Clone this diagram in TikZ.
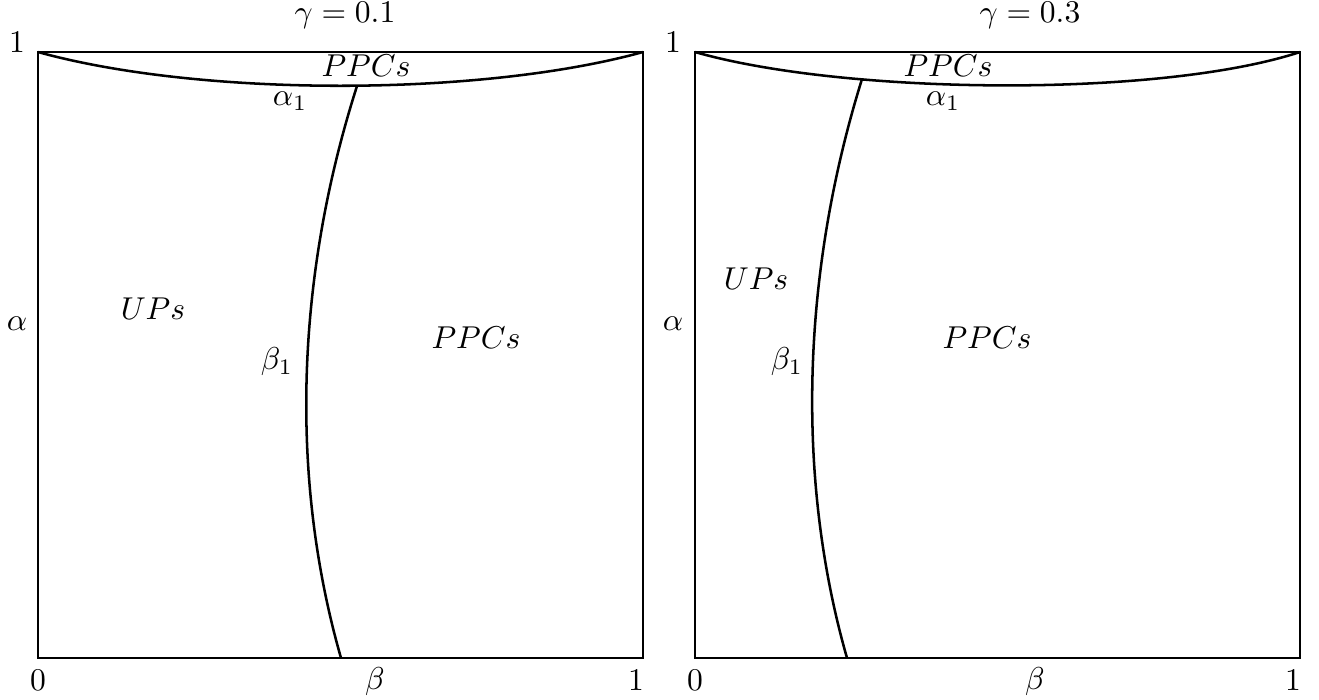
\documentclass[tikz,border=0pt]{standalone}
\begin{document}
\begin{tikzpicture}[x=0.3165pt,y=-0.3165pt,
  frame/.style={line width=0.4pt},
  bound/.style={line width=0.8pt},
  lbl/.style={inner sep=0pt,anchor=center}]
\useasboundingbox (0,0) rectangle (1319,699);
% ---------- left panel (gamma = 0.1) ----------
\coordinate (LTL) at (38,52);
\coordinate (LTR) at (643,52);
\coordinate (LBL) at (38,658);
\coordinate (LBR) at (643,658);
\coordinate (LJ) at (357,86);
\coordinate (LB) at (341,658);
\draw[frame] (LBL) rectangle (LTR);
\draw[bound] (LTL) .. controls (200,97) and (480,97) .. (LTR);
\draw[bound] (LJ) .. controls (295,280) and (290,480) .. (LB);
\node[lbl] (g1) at (345,15) {$\gamma=0.1$};
\node[lbl] (l1) at (17,42) {$1$};
\node[lbl] (lppc1) at (366,66) {$PPCs$};
\node[lbl] (la1) at (290,101) {$\alpha_1$};
\node[lbl] (lups) at (153,309) {$UPs$};
\node[lbl] (lal) at (17,324) {$\alpha$};
\node[lbl] (lb1) at (277,362) {$\beta_1$};
\node[lbl] (lppc2) at (476,338) {$PPCs$};
\node[lbl] (l0) at (38,680) {$0$};
\node[lbl] (lbe) at (375,682) {$\beta$};
\node[lbl] (l1b) at (636,680) {$1$};
% ---------- right panel (gamma = 0.3) ----------
\coordinate (RTL) at (695,52);
\coordinate (RTR) at (1300,52);
\coordinate (RBL) at (695,658);
\coordinate (RBR) at (1300,658);
\coordinate (RJ) at (862,79);
\coordinate (RB) at (847,658);
\draw[frame] (RBL) rectangle (RTR);
\draw[bound] (RTL) .. controls (845,95) and (1160,98) .. (RTR);
\draw[bound] (RJ) .. controls (801,275) and (796,480) .. (RB);
\node[lbl] (g3) at (1030,15) {$\gamma=0.3$};
\node[lbl] (r1) at (673,42) {$1$};
\node[lbl] (rppc1) at (948,66) {$PPCs$};
\node[lbl] (ra1) at (943,101) {$\alpha_1$};
\node[lbl] (rups) at (756,279) {$UPs$};
\node[lbl] (ral) at (673,324) {$\alpha$};
\node[lbl] (rb1) at (787,362) {$\beta_1$};
\node[lbl] (rppc2) at (987,338) {$PPCs$};
\node[lbl] (r0) at (695,680) {$0$};
\node[lbl] (rbe) at (1035,682) {$\beta$};
\node[lbl] (r1b) at (1293,680) {$1$};
\end{tikzpicture}
\end{document}
